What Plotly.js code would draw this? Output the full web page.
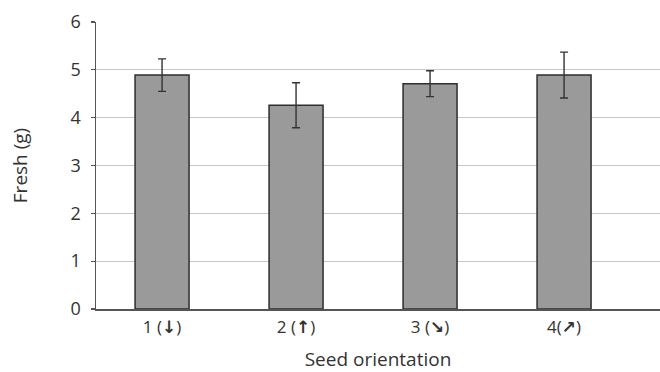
<!DOCTYPE html>
<html><head><meta charset="utf-8">
<script src="https://cdn.plot.ly/plotly-3.0.1.min.js"></script>
<style>body{margin:0;background:#fff}#c{width:660px;height:372px}</style>
</head><body><div id="c"></div>
<script>
const categoryNumbers = ["1 (", "2 (", "3 (", "4("];
const categoryArrows = ["↓", "↑", "↘", "↗"];
const freshMass = [4.89, 4.26, 4.71, 4.89];
const errorSize = [0.34, 0.47, 0.27, 0.48];
const yTicks = [0, 1, 2, 3, 4, 5, 6];

const categories = categoryNumbers.map((n, i) =>
  n + '<span style="font-family:DejaVu Sans;font-weight:bold">' + categoryArrows[i] + '</span>)');

const trace = {
  type: 'bar',
  x: [0, 1, 2, 3],
  y: freshMass,
  width: 0.403,
  marker: {color: '#999a99', line: {color: '#2e2e2e', width: 1.5}},
  error_y: {type: 'data', array: errorSize, visible: true, color: '#333', thickness: 1.4, width: 4},
  hoverinfo: 'none'
};
const layout = {
  width: 660, height: 372,
  margin: {l: 96, r: 0, t: 22, b: 63},
  paper_bgcolor: '#fff', plot_bgcolor: '#fff',
  showlegend: false,
  font: {family: 'Open Sans, sans-serif', color: '#333'},
  xaxis: {
    range: [-0.493, 3.716],
    tickmode: 'array', tickvals: [0, 1, 2, 3], ticktext: categories,
    showgrid: false, zeroline: false,
    showline: true, linecolor: '#555', linewidth: 1.5,
    ticks: '', tickfont: {size: 17, color: '#333'},
    ticklabelstandoff: 2,
    title: {text: 'Seed orientation', font: {size: 19, color: '#333'}, standoff: 16}
  },
  yaxis: {
    range: [0, 6],
    tickmode: 'array', tickvals: yTicks,
    showgrid: true, gridcolor: '#c8c8c8', gridwidth: 1,
    zeroline: false,
    showline: true, linecolor: '#555', linewidth: 1.5,
    ticks: 'outside', ticklen: 4, tickcolor: '#555', tickwidth: 1.2,
    ticklabelstandoff: 6,
    tickfont: {size: 18, color: '#333'},
    title: {text: 'Fresh (g)', font: {size: 19, color: '#333'}, standoff: 38}
  }
};
Plotly.newPlot('c', [trace], layout, {staticPlot: true, displayModeBar: false});
</script></body></html>
